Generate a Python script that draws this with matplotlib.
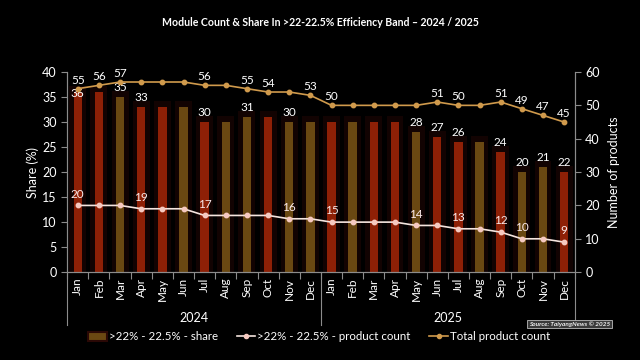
import matplotlib
matplotlib.use("Agg")
import matplotlib.pyplot as plt
import matplotlib.transforms as mtransforms
from matplotlib.lines import Line2D
from matplotlib.patches import Patch

plt.rcParams['font.family'] = ['Lato', 'DejaVu Sans']

months = ["Jan", "Feb", "Mar", "Apr", "May", "Jun", "Jul", "Aug", "Sep", "Oct", "Nov", "Dec"]
years = ["2024", "2025"]

share = [36, 36, 35, 33, 33, 33, 30, 30, 31, 31, 30, 30,
         30, 30, 30, 30, 28, 27, 26, 26, 24, 20, 21, 20]
share_labels = ["36", "", "35", "33", "", "", "30", "", "31", "", "30", "",
                "", "", "", "", "28", "27", "26", "", "24", "20", "21", "22"]

product_count = [20, 20, 20, 19, 19, 19, 17, 17, 17, 17, 16, 16,
                 15, 15, 15, 15, 14, 14, 13, 13, 12, 10, 10, 9]
product_labels = ["20", "", "", "19", "", "", "17", "", "", "", "16", "",
                  "15", "", "", "", "14", "", "13", "", "12", "10", "", "9"]

total_count = [55, 56, 57, 57, 57, 57, 56, 56, 55, 54, 54, 53,
               50, 50, 50, 50, 50, 51, 50, 50, 51, 49, 47, 45]
total_labels = ["55", "56", "57", "", "", "", "56", "", "55", "54", "", "53",
                "50", "", "", "", "", "51", "50", "", "51", "49", "47", "45"]

RED = "#8e2006"
OLIVE = "#6a4812"
bar_colors = [RED, RED, OLIVE, RED, RED, OLIVE, RED, OLIVE, OLIVE, RED, OLIVE, OLIVE,
              RED, OLIVE, RED, RED, OLIVE, RED, RED, OLIVE, RED, OLIVE, OLIVE, RED]

BG = "#000000"
TXT = "#ffffff"
AX = "#8c8c8c"
LINE_W = "#f4e4de"
GOLD = "#d09a4c"

fig = plt.figure(figsize=(6.4, 3.6), dpi=100, facecolor=BG)
ax = fig.add_axes([0.105, 0.244, 0.793, 0.556], facecolor=BG)
ax2 = ax.twinx()
ax2.set_zorder(ax.get_zorder() + 1)
ax2.patch.set_visible(False)

n = len(share)
x = list(range(n))

# glow behind bars
ax.bar(x, [s + 1.2 for s in share], width=0.8, color="#120302", zorder=1)
ax.bar(x, share, width=0.4, color=bar_colors, zorder=2)

for xi, s, lab in zip(x, share, share_labels):
    if lab:
        off = -0.2 if xi == 0 else 2.0
        ax.text(xi, s + off, lab, ha="center", va="center", color=TXT, fontsize=8.5, zorder=5)

ax.set_xlim(-0.5, n - 0.5)
ax.set_ylim(0, 40)
ax.set_yticks(range(0, 41, 5))
ax.set_xticks(x)
ax.set_xticklabels(months * 2, rotation=90, color=TXT, fontsize=8.5)
ax.tick_params(axis="x", length=0, pad=4)
ax.set_xticks([i - 0.5 for i in range(n + 1)], minor=True)
ax.tick_params(axis="x", which="minor", length=5, color=AX, width=0.8)
ax.tick_params(axis="y", colors=TXT, labelsize=9, length=4, color=AX, width=0.8)
ax.set_ylabel("Share (%)", color=TXT, fontsize=9, labelpad=2)

ax.spines["top"].set_visible(False)
ax2.spines["top"].set_visible(False)
for a in (ax, ax2):
    for sp in ["left", "right", "bottom"]:
        a.spines[sp].set_color(AX)
        a.spines[sp].set_linewidth(0.8)

ax2.plot(x, total_count, color=GOLD, lw=1.2, marker="o", ms=3.2, zorder=4)
ax2.plot(x, product_count, color=LINE_W, lw=1.2, marker="o", ms=3.2,
         markerfacecolor="#f6c9c0", markeredgecolor="#f6c9c0", zorder=4)
for xi, v, lab in zip(x, total_count, total_labels):
    if lab:
        ax2.text(xi, v + 2.6, lab, ha="center", va="center", color=TXT, fontsize=8.5, zorder=5)
for xi, v, lab in zip(x, product_count, product_labels):
    if lab:
        ax2.text(xi, v + 3.4, lab, ha="center", va="center", color="#fbe9e9", fontsize=8.5, zorder=5)

ax2.set_ylim(0, 60)
ax2.set_yticks(range(0, 61, 10))
ax2.tick_params(axis="y", colors=TXT, labelsize=9, length=4, color=AX, width=0.8)
ax2.set_ylabel("Number of products", color=TXT, fontsize=9, labelpad=6)

# year group separators and labels
trans = mtransforms.blended_transform_factory(ax.transData, fig.transFigure)
y_bot = 1 - 325 / 360
for xs in [-0.5, 11.5, 23.5]:
    ax.plot([xs, xs], [0.244, y_bot], transform=trans, color=AX, lw=0.8, clip_on=False)
for i, yr in enumerate(years):
    ax.text(i * 12 + 5.5, 1 - 318 / 360, yr, transform=trans, ha="center", va="center",
            color=TXT, fontsize=9)

fig.text(0.5, 1 - 22 / 360, "Module Count & Share In >22-22.5% Efficiency Band \u2013 2024 / 2025",
         ha="center", va="center", color=TXT, fontsize=7.6, fontweight="bold")

fig.text(0.89, 1 - 324 / 360, "Source: TaiyangNews \u00a9 2025", ha="center", va="center",
         color="#eeeeee", fontsize=4.6, style="italic", fontweight="bold",
         bbox=dict(boxstyle="square,pad=0.25", facecolor="#3a3a3a", edgecolor="#bbbbbb", lw=0.6))

handles = [
    Patch(facecolor=OLIVE, edgecolor="#2a0805", lw=1.5),
    Line2D([0], [0], color=LINE_W, lw=1.2, marker="o", ms=3, markerfacecolor="#f6c9c0",
           markeredgecolor="#f6c9c0"),
    Line2D([0], [0], color=GOLD, lw=1.2, marker="o", ms=3),
]
labels = [">22% - 22.5% - share", ">22% - 22.5% - product count", "Total product count"]
leg = fig.legend(handles, labels, loc="center", bbox_to_anchor=(0.499, 1 - 337 / 360), ncol=3,
                 frameon=False, fontsize=8.3, labelcolor=TXT, handlelength=1.6,
                 handletextpad=0.2, columnspacing=1.6)

fig.savefig("out.png", dpi=100, facecolor=BG)
